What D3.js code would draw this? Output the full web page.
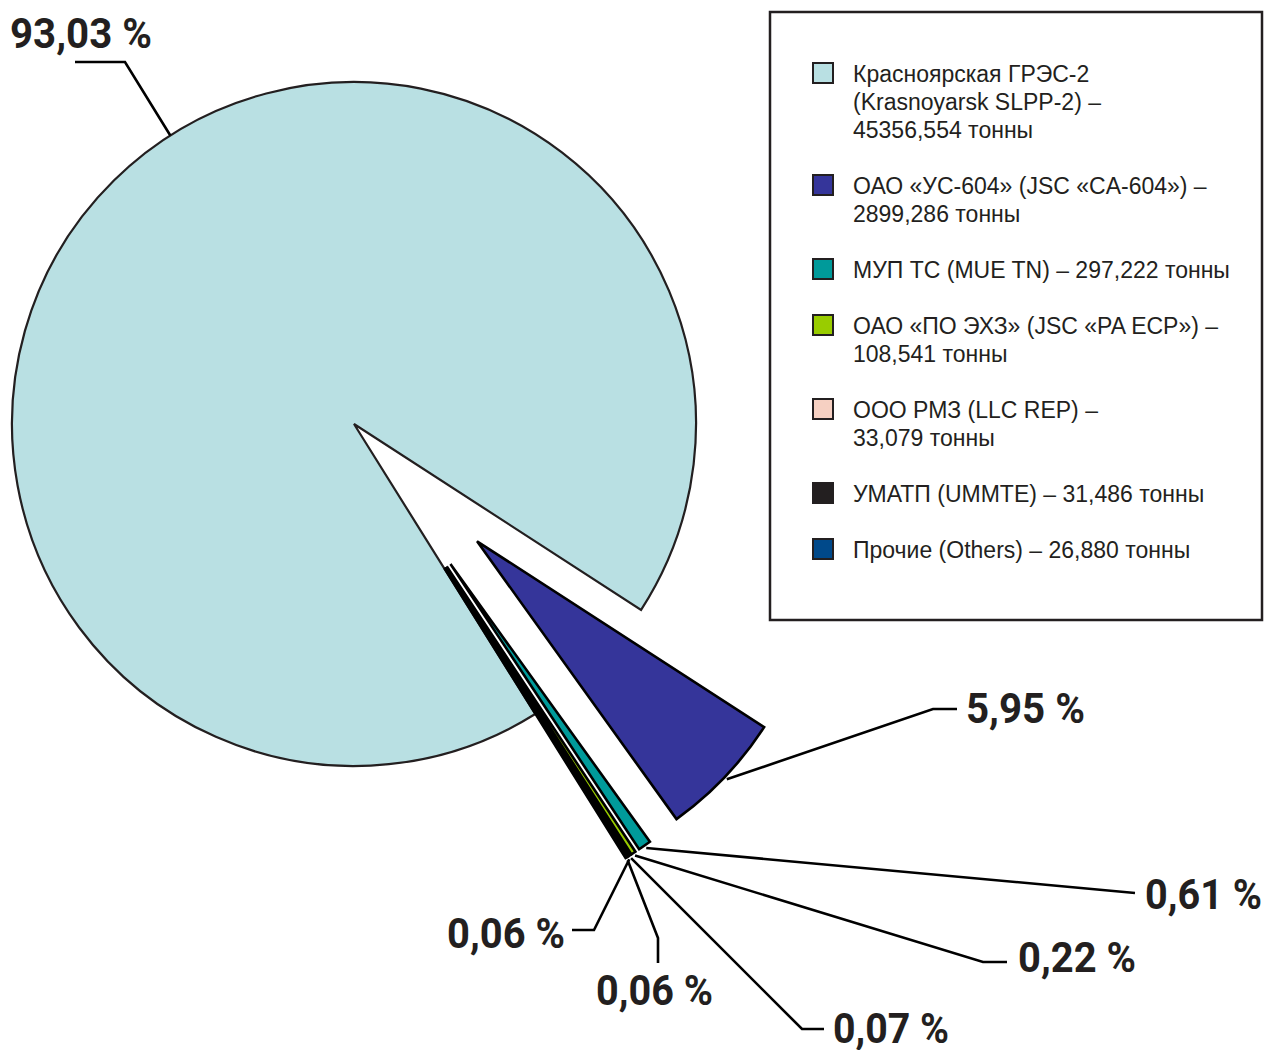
<!DOCTYPE html>
<html>
<head>
<meta charset="utf-8">
<script src="https://cdn.jsdelivr.net/npm/d3@7"></script>
<style>
  html, body { margin: 0; padding: 0; background: #fff; }
  svg { display: block; }
  .pct { font-family: Roboto, "Liberation Sans", sans-serif; font-weight: bold; font-size: 42px; fill: #231f20; }
  .leg { font-family: "Liberation Sans", Arial, sans-serif; font-size: 23px; fill: #231f20; }
</style>
</head>
<body>
<div id="chart"></div>
<script>
// data (tonnes)
const categories = ["Красноярская ГРЭС-2", "ОАО «УС-604»", "МУП ТС", "ОАО «ПО ЭХЗ»", "ООО РМЗ", "УМАТП", "Прочие"]
const values = [45356.554, 2899.286, 297.222, 108.541, 33.079, 31.486, 26.880]
const percentLabels = ["93,03 %", "5,95 %", "0,61 %", "0,22 %", "0,07 %", "0,06 %", "0,06 %"]
const colors = ["#b9e0e3", "#35359a", "#009a9a", "#99cc00", "#f6d0c2", "#231f20", "#00498a"]
const legendLines = [
	["Красноярская ГРЭС-2", "(Krasnoyarsk SLPP-2) –", "45356,554 тонны"],
	["ОАО «УС-604» (JSC «CA-604») –", "2899,286 тонны"],
	["МУП ТС (MUE TN) – 297,222 тонны"],
	["ОАО «ПО ЭХЗ» (JSC «PA ECP») –", "108,541 тонны"],
	["ООО РМЗ (LLC REP) –", "33,079 тонны"],
	["УМАТП (UMMTE) – 31,486 тонны"],
	["Прочие (Others) – 26,880 тонны"]
]

// where each percent label sits (leader elbow, leader end, text, text width)
const labelLayout = [
	{t: 0.536, elbow: [125, 62], end: [75, 62], tx: 10, ty: 48, anchor: "start", tw: 142},
	{t: 0.5, elbow: [933, 709], end: [957, 709], tx: 966, ty: 723, anchor: "start", tw: 119},
	{t: 0.5, elbow: [1135, 893], end: [1135, 893], tx: 1145, ty: 909, anchor: "start", tw: 117},
	{t: 0.5, elbow: [983, 962], end: [1007, 962], tx: 1018, ty: 972, anchor: "start", tw: 118},
	{t: 0.5, elbow: [802, 1029], end: [824, 1029], tx: 833, ty: 1043, anchor: "start", tw: 116},
	{t: 0.5, elbow: [594, 930], end: [572, 930], tx: 447, ty: 948, anchor: "start", tw: 118},
	{t: 0.5, elbow: [658, 938], end: [658, 963], tx: 596, ty: 1005, anchor: "start", tw: 117}
]

const width = 1267, height = 1050
const cx = 354, cy = 424, radius = 342, explode = 170
const startDeg = 148

const svg = d3.select("#chart").append("svg")
	.attr("width", width)
	.attr("height", height)

const pie = d3.pie()
	.sort(null)
	.startAngle(startDeg * Math.PI / 180)
	.endAngle((startDeg + 360) * Math.PI / 180)

const arcs = pie(values)
const arc = d3.arc().innerRadius(0).outerRadius(radius)

// offset of a slice along its bisector
function shift(d, i) {
	if (i === 0) return [0, 0]
	const a = (d.startAngle + d.endAngle) / 2
	return [explode * Math.sin(a), -explode * Math.cos(a)]
}

const g = svg.append("g").attr("transform", "translate(" + cx + "," + cy + ")")

g.selectAll("path.slice")
	.data(arcs)
	.enter()
	.append("path")
	.attr("class", "slice")
	.attr("transform", (d, i) => "translate(" + shift(d, i) + ")")
	.attr("d", arc)
	.style("fill", (d, i) => colors[i])
	.attr("stroke", (d, i) => i === 0 ? "#231f20" : "#000")
	.attr("stroke-width", (d, i) => i === 0 ? 2.2 : 2.6)
	.attr("stroke-linejoin", "miter")

// leader lines
arcs.forEach(function(d, i) {
	const L = labelLayout[i]
	const a = d.startAngle + (d.endAngle - d.startAngle) * L.t
	const s = shift(d, i)
	const r = radius + (i === 0 ? 0 : 3)
	const x0 = cx + s[0] + r * Math.sin(a)
	const y0 = cy + s[1] - r * Math.cos(a)
	svg.append("polyline")
		.attr("points", [[x0, y0], L.elbow, L.end].map(p => p.join(",")).join(" "))
		.attr("fill", "none")
		.attr("stroke", "#000")
		.attr("stroke-width", 2.6)

	svg.append("text")
		.attr("class", "pct")
		.attr("x", L.tx)
		.attr("y", L.ty)
		.attr("text-anchor", L.anchor)
		.attr("textLength", L.tw)
		.attr("lengthAdjust", "spacingAndGlyphs")
		.text(percentLabels[i])
})

// legend
const legend = svg.append("g")
legend.append("rect")
	.attr("x", 770).attr("y", 12)
	.attr("width", 492).attr("height", 608)
	.attr("fill", "#fff")
	.attr("stroke", "#231f20")
	.attr("stroke-width", 2.5)

let baseY = 82
const lineH = 28, entryGap = 56
legendLines.forEach(function(lines, i) {
	legend.append("rect")
		.attr("x", 813).attr("y", baseY - 19)
		.attr("width", 20).attr("height", 20)
		.style("fill", colors[i])
		.attr("stroke", "#231f20")
		.attr("stroke-width", 2)
	const t = legend.append("text").attr("class", "leg")
	lines.forEach(function(s, j) {
		t.append("tspan").attr("x", 853).attr("y", baseY + j * lineH).text(s)
	})
	baseY += (lines.length - 1) * lineH + entryGap
})
</script>
</body>
</html>
